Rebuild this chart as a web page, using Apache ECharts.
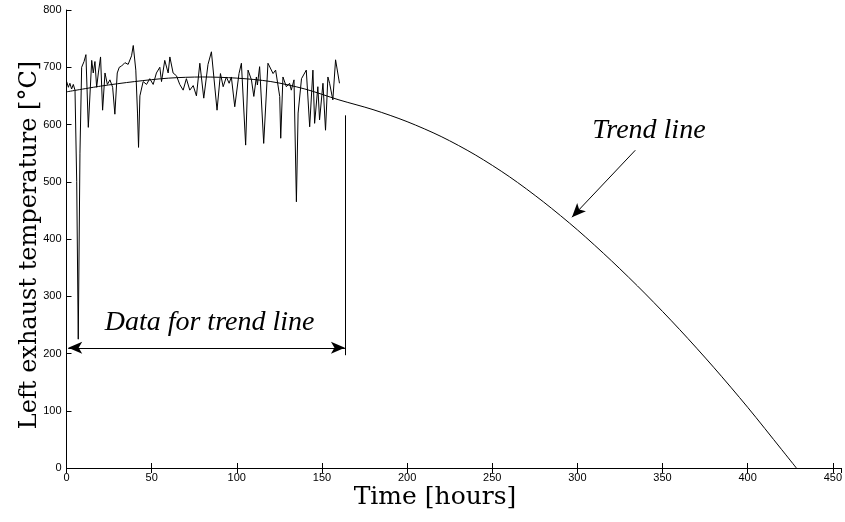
<!DOCTYPE html>
<html><head><meta charset="utf-8">
<script src="https://cdn.jsdelivr.net/npm/echarts@6/dist/echarts.min.js"></script>
<style>html,body{margin:0;padding:0;background:#fff}#c{width:845px;height:522px}</style>
</head><body><div id="c"></div>
<script>
// Measured data (time in hours, temperature in °C)
const dataTime = [0.1,1.1,2.0,3.0,4.0,5.0,6.0,6.9,7.9,8.9,10.3,11.4,12.8,14.8,15.7,16.7,17.7,18.7,20.0,21.2,22.6,24.0,25.5,27.1,28.4,29.8,31.0,32.3,34.3,36.2,38.2,39.2,40.7,41.7,42.3,43.1,45.0,47.0,48.9,50.9,52.8,54.8,55.8,57.7,59.7,60.7,62.6,64.6,66.5,68.5,70.4,72.4,74.4,76.3,78.3,80.6,83.1,85.1,88.4,90.4,92.0,93.9,95.5,96.8,98.8,101.3,102.7,105.2,106.6,108.6,110.0,111.5,112.1,113.4,115.8,118.3,121.3,122.8,125.2,125.8,127.1,129.1,131.0,132.0,133.6,135.0,136.0,138.0,140.8,142.8,144.7,145.7,147.6,148.6,150.6,152.1,153.5,154.5,156.4,158.0,160.3];
const dataTemp = [675,665,672,662,670,660,500,225,550,700,710,722,595,712,690,710,665,690,718,625,690,670,678,665,618,690,700,702,708,705,720,738,695,620,560,650,675,670,680,670,690,700,675,712,690,718,690,685,670,660,680,660,668,650,707,646,705,727,625,689,666,683,672,683,631,689,707,564,695,678,649,683,669,701,567,707,689,695,649,576,683,666,672,660,678,465,620,680,695,596,695,602,666,608,672,590,683,672,643,713,672];
// Trend line read points
const trendTime = [0,20,40,60,80,100,120,140,160,180,200,220,240,260,280,300,320,340,360,380,400,420,428.6];
const trendTemp = [657,667,675,681,683,681,675,662,643,626,605,579,547,509,465,416,362,304,242,176,106,32,0];
// Axis ticks
const xTicks = [0,50,100,150,200,250,300,350,400,450];
const yTicks = [0,100,200,300,400,500,600,700,800];
// Annotations (data coordinates)
const bracketRight = [[163.5,197],[163.5,616]];
const bracketArrow = [[1,210],[163.5,210]];
const trendArrow = [[334,555],[296.8,438]];

const chart = echarts.init(document.getElementById('c'), null, {renderer:'canvas'});
const tickFont = {fontFamily:'"Liberation Sans Narrow","Liberation Sans",Arial,sans-serif', fontSize:11, color:'#000'};
const opt = {
  animation:false,
  grid:{left:66.5, top:10, right:2.4, bottom:54, containLabel:false},
  xAxis:[{type:'value', min:0, max:455, interval:50, position:'bottom',
      axisLine:{show:true, onZero:false, lineStyle:{color:'#000', width:1}},
      axisTick:{show:true, inside:true, length:5, lineStyle:{color:'#000'}},
      axisLabel:Object.assign({margin:4, showMaxLabel:false, formatter:v => xTicks.includes(v)? String(v):''}, tickFont),
      splitLine:{show:false}},
    {type:'value', min:0, max:455, interval:50, position:'top',
      axisLine:{show:true, lineStyle:{color:'#000', width:1}},
      axisTick:{show:true, inside:true, length:5, lineStyle:{color:'#000'}},
      axisLabel:{show:false}, splitLine:{show:false}}],
  yAxis:[{type:'value', min:0, max:800, interval:100,
      axisLine:{show:true, onZero:false, lineStyle:{color:'#000', width:1}},
      axisTick:{show:true, inside:true, length:5, lineStyle:{color:'#000'}},
      axisLabel:Object.assign({margin:5, formatter:v => yTicks.includes(v)? String(v):''}, tickFont),
      splitLine:{show:false}}],
  series:[
    {type:'line', name:'data', data:dataTime.map((t,i)=>[t,dataTemp[i]]), showSymbol:false, symbol:'none',
      lineStyle:{color:'#000', width:1}},
    {type:'line', name:'trend', data:trendTime.map((t,i)=>[t,trendTemp[i]]), smooth:0.3, showSymbol:false, symbol:'none',
      lineStyle:{color:'#000', width:1},
      markLine:{silent:true, animation:false, label:{show:false},
        lineStyle:{color:'#000', width:1, type:'solid'},
        data:[
          [{coord:bracketRight[0], symbol:'none'},{coord:bracketRight[1], symbol:'none'}],
          [{coord:bracketArrow[0], symbol:'arrow', symbolSize:[9,14]},{coord:bracketArrow[1], symbol:'arrow', symbolSize:[9,14]}],
          [{coord:trendArrow[0], symbol:'none'},{coord:trendArrow[1], symbol:'arrow', symbolSize:[9,14]}]
        ]}}
  ]
};
chart.setOption(opt);
const serif = '"DejaVu Serif","Liberation Serif",serif';
const iserif = '"Liberation Serif","DejaVu Serif",serif';
const p1 = chart.convertToPixel({gridIndex:0},[84,254]);
const p2 = chart.convertToPixel({gridIndex:0},[342,589]);
chart.setOption({graphic:[
  {type:'text', x:435, y:497, style:{text:'Time [hours]', font:'25px '+serif, fill:'#000', textAlign:'center', textVerticalAlign:'middle'}},
  {type:'text', rotation:Math.PI/2, x:30, y:245, style:{text:'Left exhaust temperature [°C]', font:'24px '+serif, fill:'#000', textAlign:'center', textVerticalAlign:'middle'}},
  {type:'text', x:p1[0], y:p1[1], style:{text:'Data for trend line', font:'italic 28px '+iserif, fill:'#000', textAlign:'center', textVerticalAlign:'middle'}},
  {type:'text', x:p2[0], y:p2[1], style:{text:'Trend line', font:'italic 28px '+iserif, fill:'#000', textAlign:'center', textVerticalAlign:'middle'}}
]});
</script></body></html>
